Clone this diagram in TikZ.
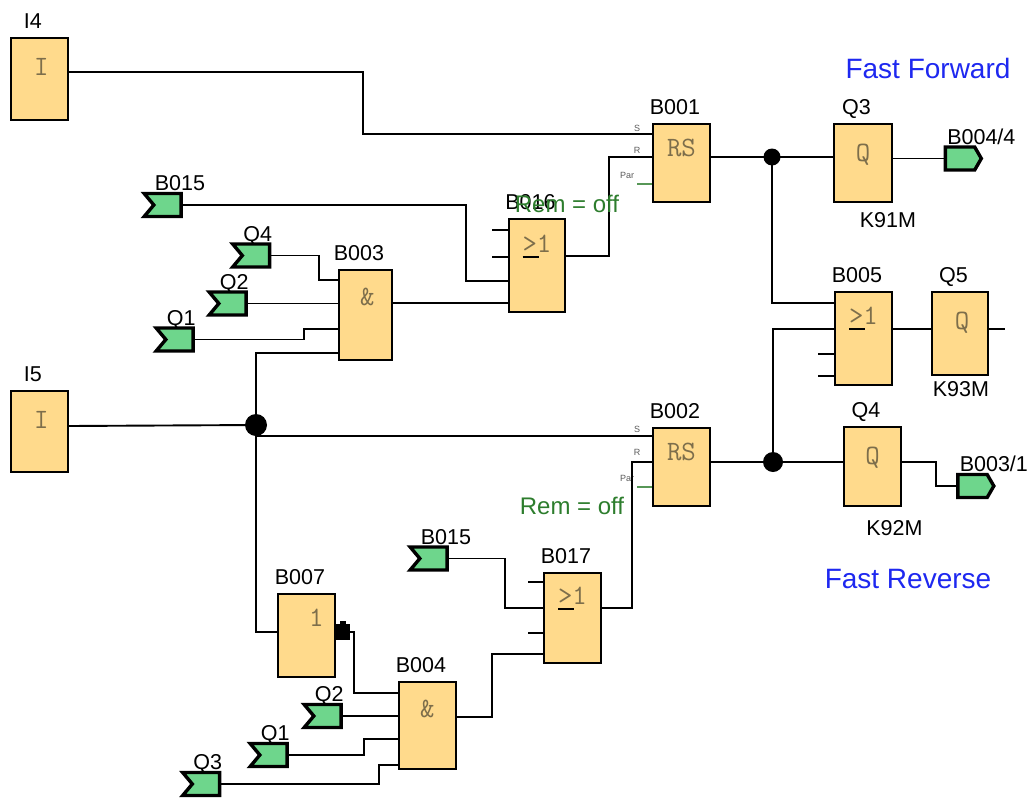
\documentclass[tikz,border=0pt]{standalone}
\usepackage{fontspec}
\setmainfont{Liberation Sans}
\usetikzlibrary{positioning, calc, shapes.symbols}
\definecolor{boxfill}{RGB}{255,218,140}
\definecolor{pinfill}{RGB}{110,214,140}
\definecolor{ffblue}{RGB}{30,40,240}
\definecolor{remgreen}{RGB}{45,125,45}
\definecolor{symgray}{RGB}{125,110,75}
\definecolor{pingray}{RGB}{90,90,90}
\tikzset{
  blk/.style={draw, fill=boxfill, line width=1.9pt, inner sep=0, anchor=north west},
  blkname/.style={label={[font=\fontsize{21.5}{24}\selectfont, anchor=base, xshift=-6.5pt, yshift=8.5pt]90:#1}},
  gsym/.style={font=\ttfamily\fontsize{28}{30}\selectfont, text=symgray, anchor=base, yshift=-34pt},
  inpin/.style={signal, signal from=west, signal to=nowhere, signal pointer angle=100, draw, line width=3.4pt, fill=pinfill, minimum width=37, minimum height=23, inner sep=0},
  outpin/.style={signal, signal to=east, signal from=nowhere, signal pointer angle=120, draw, line width=3.4pt, fill=pinfill, minimum width=36, minimum height=23, inner sep=0},
  pinname/.style={label={[font=\fontsize{21.5}{24}\selectfont, anchor=base west, xshift=-17pt, yshift=1pt]90:#1}},
  tagtext/.style={font=\fontsize{21.5}{24}\selectfont, inner sep=0},
  pintag/.style={font=\fontsize{9}{10}\selectfont, text=pingray, inner sep=0},
  fasttext/.style={font=\fontsize{28}{30}\selectfont, text=ffblue, inner sep=0},
  remtext/.style={font=\fontsize{24}{26}\selectfont, text=remgreen, inner sep=0},
  parwire/.style={draw=remgreen!80, line width=1.4pt},
  dot/.style={circle, fill, inner sep=0, minimum size=#1}
}
\newcommand{\geone}{\rlap{\color{black}\rule[-6pt]{16pt}{2pt}}>1}
\begin{document}
\begin{tikzpicture}[x=1pt, y=-1pt, line width=1.9pt]
\useasboundingbox (0,0) rectangle (1028,798);

\node[blk, minimum width=57, minimum height=82, blkname=I4, label={[gsym, yshift=-4pt, xshift=2pt]90:I}] (i_4) at (10,37) {};
\node[blk, minimum width=57, minimum height=81, blkname=I5, label={[gsym, yshift=-4pt, xshift=2pt]90:I}] (i_5) at (10,390) {};
\node[blk, minimum width=57, minimum height=78, blkname=B001, label={[gsym, yshift=1pt]90:RS}] (b_001) at (652,123) {};
\node[blk, minimum width=58, minimum height=78, blkname=Q3, label={[gsym, yshift=-4pt]90:Q}] (q_3) at (833,123) {};
\node[blk, minimum width=56, minimum height=93, blkname=B016, label={[gsym]90:\geone}] (b_016) at (508,218) {};
\node[blk, minimum width=53, minimum height=90, blkname=B003, label={[gsym, yshift=-2pt, xshift=2pt]90:\&}] (b_003) at (338,269) {};
\node[blk, minimum width=57, minimum height=93, blkname=B005, label={[gsym, yshift=1pt]90:\geone}] (b_005) at (834,291) {};
\node[blk, minimum width=56, minimum height=83, blkname=Q5, label={[gsym, yshift=-4pt, xshift=2pt]90:Q}] (q_5) at (931,291) {};
\node[blk, minimum width=57, minimum height=78, blkname=B002, label={[gsym, yshift=1pt]90:RS}] (b_002) at (652,427) {};
\node[blk, minimum width=57, minimum height=79, blkname=Q4, label={[gsym, yshift=-4pt]90:Q}] (q_4) at (843,426) {};
\node[blk, minimum width=57, minimum height=90, blkname=B017, label={[gsym, yshift=2pt]90:\geone}] (b_017) at (543,572) {};
\node[blk, minimum width=57, minimum height=83, blkname=B007, label={[gsym, yshift=1pt, xshift=10pt]90:1}] (b_007) at (277,593) {};
\node[blk, minimum width=57, minimum height=87, blkname=B004, label={[gsym, yshift=-2pt]90:\&}] (b_004) at (398,681) {};

\node[tagtext, anchor=base] (k_91) at ($(q_3.south)+(25,25)$) {K91M};
\node[tagtext, anchor=base] (k_93) at ($(q_5.south)+(1,21)$) {K93M};
\node[tagtext, anchor=base] (k_92) at ($(q_4.south)+(22,29)$) {K92M};

\node[inpin, pinname=B015] (c_1) at (167.5,205) {};
\node[inpin, pinname=Q4] (c_2) at (256,255.5) {};
\node[inpin, pinname=Q2] (c_3) at (232.5,303.5) {};
\node[inpin, pinname=Q1] (c_4) at (179.5,339.5) {};
\node[inpin, pinname=B015] (c_5) at (433.5,558.5) {};
\node[inpin, pinname=Q2] (c_6) at (327.5,716) {};
\node[inpin, pinname=Q1] (c_7) at (273.5,755) {};
\node[inpin, pinname=Q3] (c_8) at (206,784) {};
\node[outpin, pinname=B004/4] (o_1) at (960,158.5) {};
\node[outpin, pinname=B003/1] (o_2) at (972.5,486) {};

\node[dot=17] (j_1) at (772,157) {};
\node[dot=20] (j_2) at (773,462) {};
\node[dot=22] (j_3) at (256,425) {};

\node[pintag] (s_1) at (637,128) {S};
\node[pintag] (r_1) at (637,150) {R};
\node[pintag] (p_1) at (627,175) {Par};
\node[pintag] (s_2) at (637,429) {S};
\node[pintag] (r_2) at (637,452) {R};
\node[pintag] (p_2) at (627,478) {Par};
\draw[parwire] (637,184) -- (b_001.west |- 0,184);
\draw[parwire] (637,487) -- (b_002.west |- 0,487);

\draw (i_4.east |- 0,72) -| (363,134) -- (b_001.west |- 0,134);
\draw (b_016.east |- 0,256) -| (609,157) -- (b_001.west |- 0,157);
\draw (b_001.east |- 0,157) -- (j_1.center) -- (q_3.west |- 0,157);
\draw (q_3.east |- o_1.west) -- (o_1.west);
\draw (j_1.center) |- (b_005.west |- 0,303);
\draw (j_2.center) |- (b_005.west |- 0,329);
\foreach \y in {354,376} \draw (818,\y) -- (b_005.west |- 0,\y);
\draw (b_005.east |- 0,329) -- (q_5.west |- 0,329);
\draw (q_5.east |- 0,329) -- ++(16,0);
\draw (i_5.east |- 0,426) -- (j_3.center);
\draw (j_3.center) |- (b_002.west |- 0,436);
\draw (j_3.center) |- (b_003.west |- 0,353);
\draw (j_3.center) |- (b_007.west |- 0,632);
\draw (b_017.east |- 0,608) -| (632,462) -- (b_002.west |- 0,462);
\draw (b_002.east |- 0,462) -- (j_2.center) -- (q_4.west |- 0,462);
\draw (q_4.east |- 0,462) -| (936,486) -- (o_2.west);
\draw (c_1.east) -| (466,281) -- (b_016.west |- 0,281);
\foreach \y in {230,257} \draw (492,\y) -- (b_016.west |- 0,\y);
\draw (b_003.east |- 0,303) -- (b_016.west |- 0,303);
\draw (c_2.east) -| (319,280) -- (b_003.west |- 0,280);
\draw (c_3.east) -- (b_003.west |- c_3.east);
\draw (c_4.east) -| (304,329) -- (b_003.west |- 0,329);
\draw (c_5.east) -| (505,608) -- (b_017.west |- 0,608);
\foreach \y in {582,633} \draw (528,\y) -- (b_017.west |- 0,\y);
\draw (b_004.east |- 0,717) -| (492,654) -- (b_017.west |- 0,654);
\fill (b_007.east |- 0,624) rectangle (350,640);
\fill (340,621) rectangle (346,625);
\draw (b_007.east |- 0,632) -| (354,693) -- (b_004.west |- 0,693);
\draw (c_6.east) -- (b_004.west |- c_6.east);
\draw (c_7.east) -| (364,739) -- (b_004.west |- 0,739);
\draw (c_8.east) -| (379,765) -- (b_004.west |- 0,765);

\node[fasttext, anchor=base] (fwd) at (928,78) {Fast Forward};
\node[fasttext, anchor=base] (rev) at (908,588) {Fast Reverse};
\node[remtext, anchor=base] (rem_1) at (567,212) {Rem = off};
\node[remtext, anchor=base] (rem_2) at (572,514) {Rem = off};
\end{tikzpicture}
\end{document}
